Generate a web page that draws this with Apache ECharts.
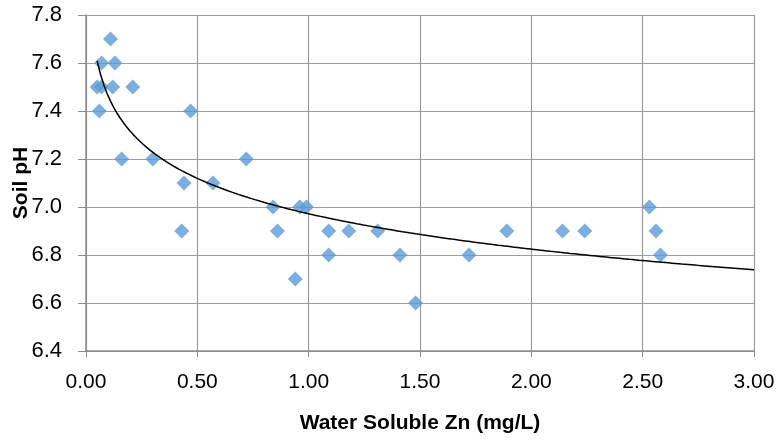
<!DOCTYPE html>
<html><head><meta charset="utf-8">
<script src="https://cdn.jsdelivr.net/npm/echarts@6/dist/echarts.min.js"></script>
<style>html,body{margin:0;padding:0;background:#fff}#c{width:782px;height:441px}</style>
</head><body><div id="c"></div>
<script>
var zn = [0.11,0.07,0.13,0.05,0.07,0.12,0.21,0.06,0.47,0.16,0.30,0.72,0.44,0.57,0.43,
          0.84,0.96,0.99,0.86,1.09,1.18,1.31,1.09,1.41,1.72,0.94,1.48,
          2.53,1.89,2.14,2.24,2.56,2.58];
var ph = [7.7,7.6,7.6,7.5,7.5,7.5,7.5,7.4,7.4,7.2,7.2,7.2,7.1,7.1,6.9,
          7.0,7.0,7.0,6.9,6.9,6.9,6.9,6.8,6.8,6.8,6.7,6.6,
          7.0,6.9,6.9,6.9,6.9,6.8];
var xTicks = ['0.00','0.50','1.00','1.50','2.00','2.50','3.00'];
var yTicks = ['6.4','6.6','6.8','7.0','7.2','7.4','7.6','7.8'];
var xTitle = 'Water Soluble Zn (mg/L)';
var yTitle = 'Soil pH';
var trendEnd = 3.0;

// logarithmic least-squares trendline computed from the data
var n = zn.length, sx=0, sy=0, sxx=0, sxy=0;
for (var i=0;i<n;i++){var l=Math.log(zn[i]); sx+=l; sy+=ph[i]; sxx+=l*l; sxy+=l*ph[i];}
var b = (n*sxy - sx*sy)/(n*sxx - sx*sx), a = (sy - b*sx)/n;
var xmin = Math.min.apply(null, zn);
var trend = [];
for (var k=0;k<=200;k++){var x = xmin + (trendEnd-xmin)*k/200; trend.push([x, a + b*Math.log(x)]);}

var pts = zn.map(function(v,i){return [v, ph[i]];});
var font = 'Liberation Sans';
var chart = echarts.init(document.getElementById('c'));
chart.setOption({
  animation:false,
  grid:{left:86,right:28,top:15,bottom:90,outerBoundsMode:'none',containLabel:false},
  xAxis:{type:'value',min:0,max:3,interval:0.5,
    name:xTitle,nameLocation:'middle',nameGap:62,
    nameTextStyle:{fontFamily:font,fontWeight:'bold',fontSize:21,color:'#000'},
    axisLine:{show:true,lineStyle:{color:'#8c8c8c',width:1.5}},
    axisTick:{show:true,length:6,lineStyle:{color:'#8c8c8c'}},
    axisLabel:{margin:21,fontFamily:font,fontSize:21,color:'#000',
      formatter:function(v){return xTicks[Math.round(v/0.5)];}},
    splitLine:{show:true,lineStyle:{color:'#9c9c9c',width:1.2}}},
  yAxis:{type:'value',min:6.4,max:7.8,interval:0.2,
    name:yTitle,nameLocation:'middle',nameGap:54,nameMoveOverlap:false,
    nameTextStyle:{fontFamily:font,fontWeight:'bold',fontSize:21,color:'#000'},
    axisLine:{show:true,lineStyle:{color:'#8c8c8c',width:1.5}},
    axisTick:{show:true,length:8,lineStyle:{color:'#8c8c8c'}},
    axisLabel:{margin:24,fontFamily:font,fontSize:22,color:'#000',
      formatter:function(v){return yTicks[Math.round((v-6.4)/0.2)];}},
    splitLine:{show:true,lineStyle:{color:'#9c9c9c',width:1.2}}},
  series:[
    {type:'scatter',data:pts,symbol:'diamond',symbolSize:[15,15],
     itemStyle:{color:'#5B9BD5'},z:3},
    {type:'line',data:trend,showSymbol:false,symbol:'none',smooth:false,
     lineStyle:{color:'#000',width:1.5},z:4}
  ]
});
</script></body></html>
